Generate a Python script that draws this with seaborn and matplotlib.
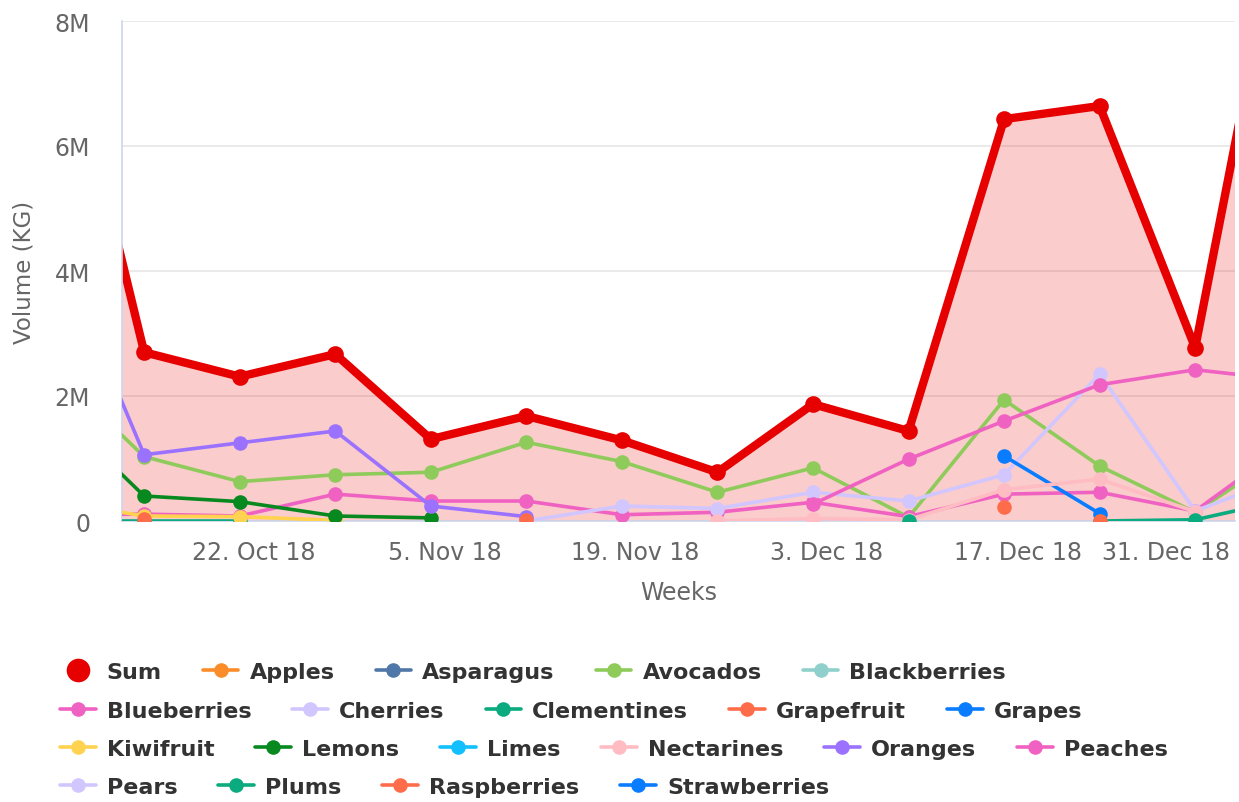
import numpy as np
import pandas as pd
import matplotlib.pyplot as plt
from matplotlib.lines import Line2D
from matplotlib.ticker import FuncFormatter
from matplotlib.transforms import ScaledTranslation
import seaborn as sns

nan = np.nan

# weekly data points (Sundays); first and last fall just outside the visible range
weeks = pd.to_datetime(['2018-10-07', '2018-10-14', '2018-10-21', '2018-10-28',
                        '2018-11-04', '2018-11-11', '2018-11-18', '2018-11-25',
                        '2018-12-02', '2018-12-09', '2018-12-16', '2018-12-23',
                        '2018-12-30', '2019-01-06'])

# volumes in million kg
sum_kg       = [9.0, 2.70, 2.31, 2.67, 1.31, 1.68, 1.29, 0.78, 1.87, 1.44, 6.43, 6.64, 2.77, 10.6]
apples       = [nan] * 14
asparagus    = [nan] * 14
avocados     = [2.50, 1.03, 0.63, 0.74, 0.78, 1.26, 0.95, 0.46, 0.85, 0.06, 1.94, 0.88, 0.14, 1.15]
blackberries = [nan] * 14
blueberries  = [0.10, 0.11, 0.08, 0.43, 0.32, 0.32, 0.10, 0.14, 0.30, 0.07, 0.43, 0.46, 0.16, 1.27]
cherries     = [nan, nan, nan, nan, nan, 0.0, 0.24, 0.20, 0.46, 0.32, 0.74, 2.35, 0.16, 0.74]
clementines  = [0.0, 0.0, 0.0, nan, nan, nan, nan, nan, nan, nan, nan, nan, nan, nan]
grapefruit   = [nan, nan, nan, nan, nan, nan, nan, nan, nan, nan, 0.22, nan, nan, nan]
grapes       = [nan, nan, nan, nan, nan, nan, nan, nan, nan, nan, 1.04, 0.12, nan, nan]
kiwifruit    = [0.33, 0.08, 0.07, 0.01, nan, nan, nan, nan, nan, nan, nan, nan, nan, nan]
lemons       = [1.88, 0.40, 0.31, 0.08, 0.05, nan, nan, nan, nan, nan, nan, nan, nan, nan]
limes        = [nan] * 14
nectarines   = [nan, nan, nan, nan, nan, nan, nan, 0.0, 0.04, 0.02, 0.50, 0.67, 0.15, nan]
oranges      = [4.70, 1.06, 1.25, 1.44, 0.24, 0.07, nan, nan, nan, nan, nan, nan, nan, nan]
peaches      = [nan, nan, nan, nan, nan, nan, nan, nan, 0.27, 0.99, 1.60, 2.18, 2.42, 2.25]
pears        = [nan] * 14
plums        = [nan, nan, nan, nan, nan, nan, nan, nan, nan, 0.0, nan, 0.0, 0.02, 0.36]
raspberries  = [nan, 0.03, nan, nan, nan, 0.02, nan, nan, nan, nan, nan, 0.0, nan, nan]
strawberries = [nan] * 14

tick_dates = pd.to_datetime(['2018-10-22', '2018-11-05', '2018-11-19',
                             '2018-12-03', '2018-12-17', '2018-12-31'])
y_ticks = [0, 2, 4, 6, 8]

series = [
    ('Apples', apples, '#fb8c2a'),
    ('Asparagus', asparagus, '#4f77a8'),
    ('Avocados', avocados, '#8ecb5a'),
    ('Blackberries', blackberries, '#8fd0cc'),
    ('Blueberries', blueberries, '#f062c2'),
    ('Cherries', cherries, '#d2c6ff'),
    ('Clementines', clementines, '#0bab7f'),
    ('Grapefruit', grapefruit, '#ff6c4a'),
    ('Grapes', grapes, '#0a7cff'),
    ('Kiwifruit', kiwifruit, '#ffd24f'),
    ('Lemons', lemons, '#08891f'),
    ('Limes', limes, '#12bfff'),
    ('Nectarines', nectarines, '#ffbcc2'),
    ('Oranges', oranges, '#9b72ff'),
    ('Peaches', peaches, '#f062c2'),
    ('Pears', pears, '#d2c6ff'),
    ('Plums', plums, '#0bab7f'),
    ('Raspberries', raspberries, '#ff6c4a'),
    ('Strawberries', strawberries, '#0a7cff'),
]
red = '#e60000'

sns.set_style('white')
plt.rcParams['font.family'] = ['DejaVu Sans']

fig = plt.figure(figsize=(12.39, 8.03), dpi=100)
ax = fig.add_axes([122 / 1239, 1 - 522 / 803, 1113 / 1239, 500 / 803])

# area under Sum
ax.fill_between(weeks, sum_kg, 0, color=red, alpha=0.2, lw=0, zorder=1)
sns.lineplot(x=weeks, y=sum_kg, color=red, lw=6, marker='o', markersize=12,
             markeredgewidth=0, ax=ax, zorder=2)


def segments(vals):
    # split a series at gaps so missing weeks are not joined
    df = pd.DataFrame({'week': weeks, 'kg': vals})
    df['seg'] = df['kg'].isna().cumsum()
    return df.dropna()


for i, (name, vals, col) in enumerate(series):
    df = segments(vals)
    if df.empty:
        continue
    sns.lineplot(data=df, x='week', y='kg', units='seg', estimator=None,
                 color=col, lw=2.6, marker='o', markersize=10.5,
                 markeredgewidth=0, ax=ax, zorder=3 + i, legend=False)

ax.set_xlim(pd.Timestamp('2018-10-12 09:00'), pd.Timestamp('2019-01-01 22:00'))
ax.set_ylim(0, 8)
ax.set_yticks(y_ticks)
ax.yaxis.set_major_formatter(FuncFormatter(lambda v, p: '0' if v == 0 else f'{v:g}M'))
ax.set_xticks(tick_dates)
ax.set_xticklabels([d.strftime('%-d. %b %y') for d in tick_dates])

ax.yaxis.grid(True, color='#e6e6e6', lw=1.2)
ax.xaxis.grid(False)
ax.set_axisbelow(True)
for s in ['top', 'right']:
    ax.spines[s].set_visible(False)
for s in ['left', 'bottom']:
    ax.spines[s].set_color('#ccd6eb')
    ax.spines[s].set_linewidth(1.2)

ax.tick_params(axis='x', length=7.5, width=1, color='#ccd6eb', labelsize=17,
               labelcolor='#666666', pad=6)
ax.tick_params(axis='y', length=0, labelsize=17, labelcolor='#666666', pad=23)

# last label is pushed left so it stays inside the figure
last = ax.get_xticklabels()[-1]
last.set_transform(last.get_transform() + ScaledTranslation(-0.43, 0, fig.dpi_scale_trans))

ax.set_xlabel('Weeks', fontsize=17, color='#666666', labelpad=12)
ax.set_ylabel('Volume (KG)', fontsize=16.5, color='#666666', labelpad=14)

# legend rows, laid out like the original flow legend
handles = {'Sum': Line2D([], [], color=red, marker='o', ls='none', markersize=17, mew=0)}
for name, vals, col in series:
    handles[name] = Line2D([], [], color=col, lw=2.6, marker='o', markersize=10.5, mew=0)

rows = [
    ['Sum', 'Apples', 'Asparagus', 'Avocados', 'Blackberries'],
    ['Blueberries', 'Cherries', 'Clementines', 'Grapefruit', 'Grapes'],
    ['Kiwifruit', 'Lemons', 'Limes', 'Nectarines', 'Oranges', 'Peaches'],
    ['Pears', 'Plums', 'Raspberries', 'Strawberries'],
]
row_y = [673, 712, 750, 788]
for names, y in zip(rows, row_y):
    leg = fig.legend([handles[n] for n in names], names, loc='center left',
                     bbox_to_anchor=(60 / 1239, 1 - y / 803), ncol=len(names),
                     frameon=False, handlelength=1.6, handletextpad=0.5,
                     columnspacing=1.85, borderpad=0, borderaxespad=0,
                     prop={'weight': 'bold', 'size': 16})
    for t in leg.get_texts():
        t.set_color('#333333')

fig.savefig('out.png', dpi=100)
